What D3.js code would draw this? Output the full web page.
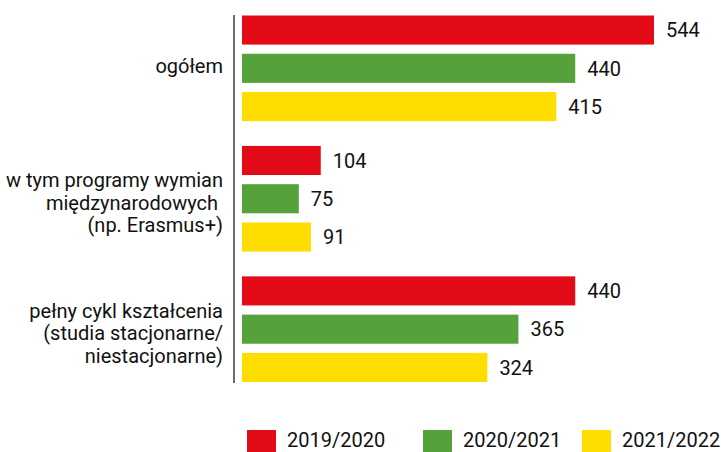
<!DOCTYPE html>
<html>
<head>
<meta charset="utf-8">
<script src="https://cdn.jsdelivr.net/npm/d3@7"></script>
<style>
  body { margin: 0; background: #fff; }
  svg { display: block; font-family: Roboto, "Noto Sans", sans-serif; }
</style>
</head>
<body>
<div id="chart"></div>
<script>
// categories (label lines) and the three school years
var categories = ["ogolem", "wymiany", "pelny"];
var categoryLines = [
  ["ogółem"],
  ["w tym programy wymian", "międzynarodowych ", "(np. Erasmus+)"],
  ["pełny cykl kształcenia", "(studia stacjonarne/", "niestacjonarne)"]
];
var years = ["2019/2020", "2020/2021", "2021/2022"];
var values2019 = [544, 104, 440];
var values2020 = [440, 75, 365];
var values2021 = [415, 91, 324];
var colors = ["#e30b17", "#55a13a", "#ffdd00"];

var width = 721, height = 452;

var svg = d3.select("#chart").append("svg")
  .attr("width", width)
  .attr("height", height);

var series = [values2019, values2020, values2021];

var x = d3.scaleLinear().domain([0, 544]).range([242, 654]);
var y0 = d3.scaleBand().domain(categories).range([15.5, 382]).paddingInner(0.19);
var y1 = d3.scaleBand().domain(years).range([0, y0.bandwidth()]).paddingInner(0.24);

// axis line at the left of the bars
svg.append("line")
  .attr("x1", 234).attr("x2", 234)
  .attr("y1", 15).attr("y2", 383)
  .attr("stroke", "#6d6d6d")
  .attr("stroke-width", 2);

var groups = svg.selectAll("g.group")
  .data(categories)
  .enter().append("g")
  .attr("class", "group")
  .attr("transform", d => "translate(0," + y0(d) + ")");

groups.each(function(cat, ci) {
  var g = d3.select(this);
  years.forEach(function(yr, si) {
    var v = series[si][ci];
    g.append("rect")
      .attr("x", x(0))
      .attr("y", y1(yr))
      .attr("width", x(v) - x(0))
      .attr("height", y1.bandwidth())
      .attr("fill", colors[si]);
    g.append("text")
      .attr("x", x(v) + 12)
      .attr("y", y1(yr) + y1.bandwidth() / 2)
      .attr("dy", "0.36em")
      .attr("font-size", 20)
      .attr("fill", "#111")
      .text(v);
  });

  // category label, right aligned and centered on the group
  var lines = categoryLines[ci];
  var lh = 22.5;
  var cy = y0.bandwidth() / 2 + (lines.length > 1 ? 4 : -3);
  var t = g.append("text")
    .attr("text-anchor", "end")
    .attr("font-size", 20)
    .attr("fill", "#111")
    .style("white-space", "pre");
  lines.forEach(function(line, li) {
    t.append("tspan")
      .attr("x", 223)
      .attr("y", cy + (li - (lines.length - 1) / 2) * lh)
      .attr("dy", "0.36em")
      .text(line);
  });
});

// legend
var legendX = [247, 423, 582];
var legend = svg.selectAll("g.legend")
  .data(years)
  .enter().append("g")
  .attr("class", "legend")
  .attr("transform", (d, i) => "translate(" + legendX[i] + ",430)");

legend.append("rect")
  .attr("width", 29)
  .attr("height", 29)
  .attr("fill", (d, i) => colors[i]);

legend.append("text")
  .attr("x", 40)
  .attr("y", 16.5)
  .attr("font-size", 20)
  .attr("fill", "#111")
  .text(d => d);
</script>
</body>
</html>
